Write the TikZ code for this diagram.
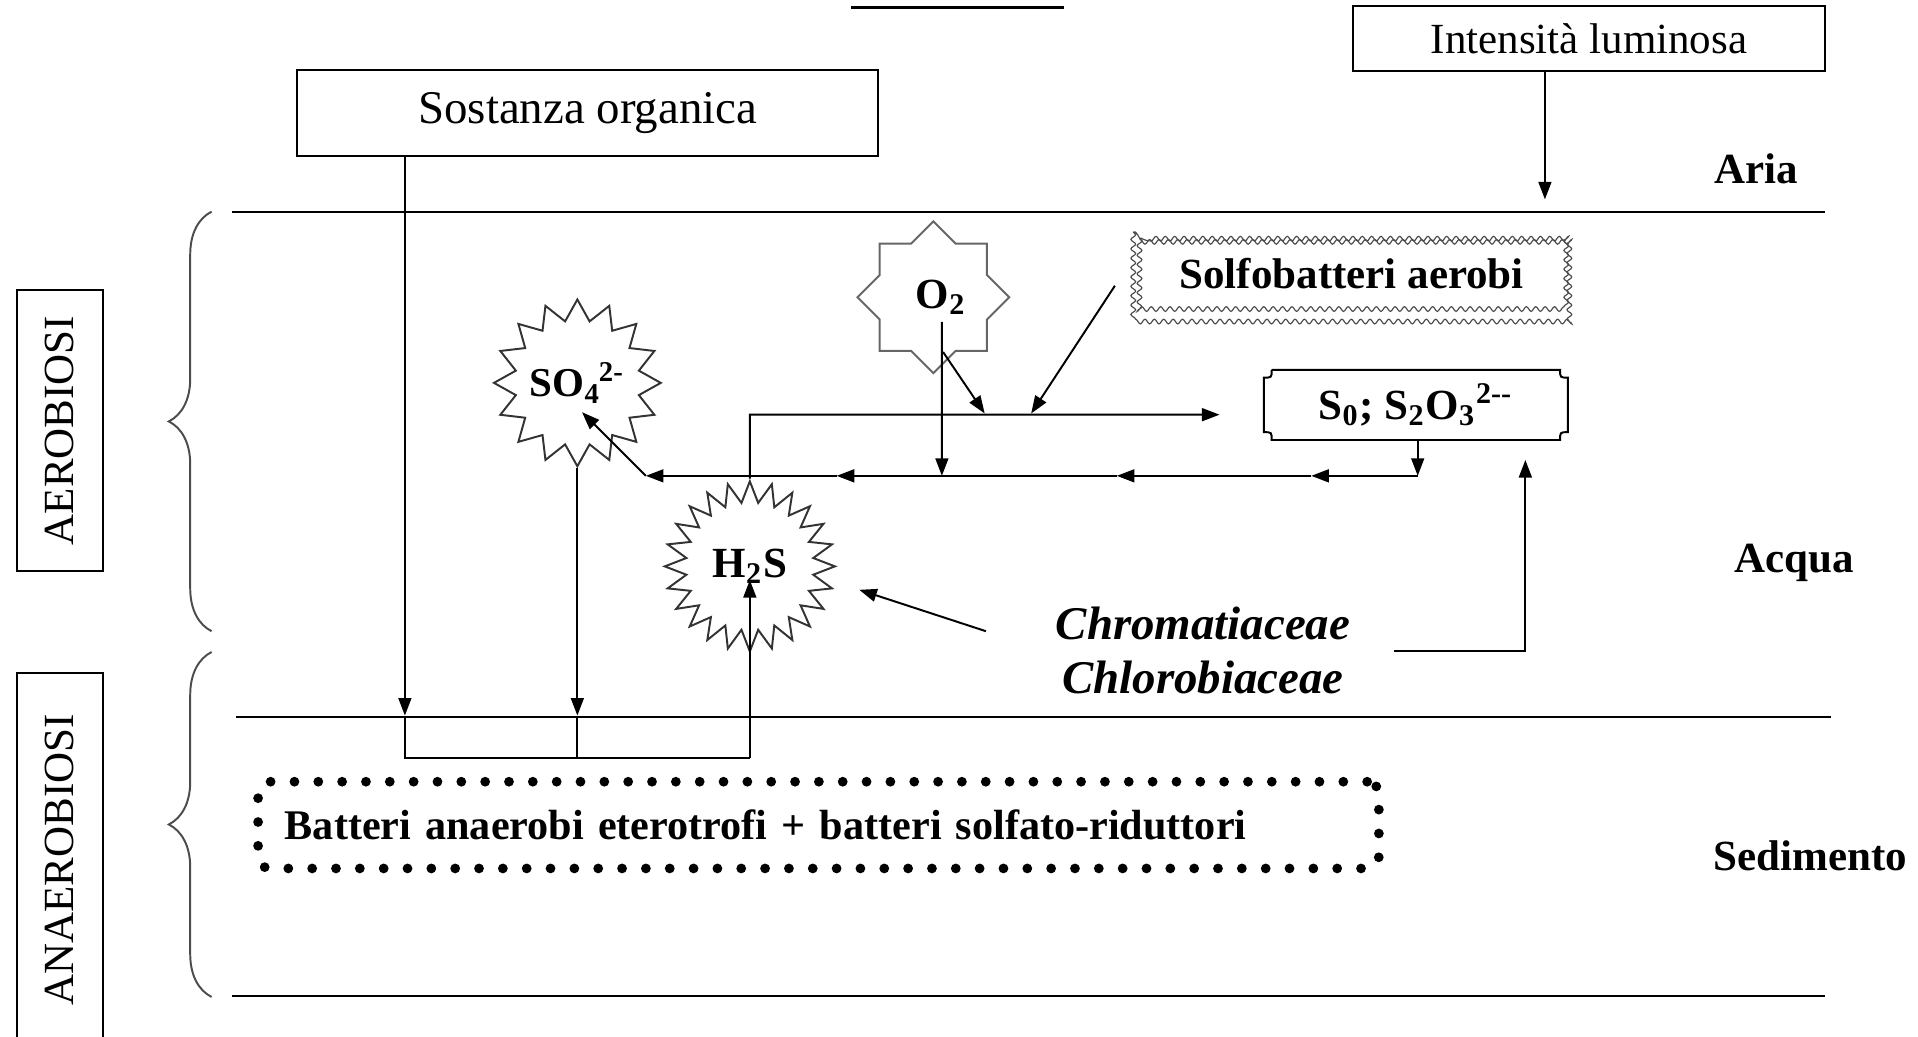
\documentclass[tikz,border=0pt]{standalone}
\usepackage{fontspec}
\setmainfont{Liberation Serif}
\usetikzlibrary{arrows.meta,shapes.geometric,decorations.pathreplacing,decorations.pathmorphing}
\tikzstyle{labelbox}=[draw, inner sep=0pt, font=\fontsize{12}{14}\selectfont]
\tikzstyle{sidebox}=[draw, rotate=90, inner sep=0pt, minimum height=0.77cm, font=\fontsize{11}{13}\selectfont]
\tikzstyle{layer}=[anchor=base, font=\bfseries\fontsize{11}{13}\selectfont]
\tikzstyle{burst}=[star, star point ratio=1.33, draw=black!80, inner sep=0pt, font=\bfseries\fontsize{11}{13}\selectfont]
\tikzstyle{species}=[anchor=base, font=\bfseries\itshape\fontsize{12}{14}\selectfont]
\tikzstyle{flow}=[-{Triangle[length=4.5pt,width=3.3pt]}]
\tikzstyle{curly}=[decorate, decoration={brace, amplitude=0.385cm}, draw=black!70]
\tikzstyle{wavy}=[decorate, decoration={snake, segment length=2.4pt, amplitude=0.6pt}, draw=black!70, line width=0.3pt]
\tikzstyle{dotbox}=[draw, line width=2.5pt, line cap=round, dash pattern=on 0pt off 6.1pt, rounded corners=3pt, text width=9.6cm, inner sep=0.24cm, minimum height=0.78cm, align=left, font=\bfseries\fontsize{10.8}{13}\selectfont]

\begin{document}
\begin{tikzpicture}[x=0.011cm, y=-0.011cm, line width=0.5pt]
\useasboundingbox (0,0) rectangle (1568,847);

% strati
\draw[line width=0.8pt] (696,6) -- (870,6);
\draw (190,173) -- (1492,173);
\draw (193,586) -- (1497,586);
\draw (190,814) -- (1492,814);

\node[layer] (aria) at (1436,150) {Aria};
\node[layer] (acqua) at (1467,468) {Acqua};
\node[layer] (sedimento) at (1480,712) {Sedimento};

\draw[curly] (173,516) -- (173,173);
\draw[curly] (173,815) -- (173,533);
\node[sidebox, minimum width=2.53cm] (aerobiosi) at (49,352) {AEROBIOSI};
\node[sidebox, minimum width=3.36cm] (anaerobiosi) at (49,703) {ANAEROBIOSI};

% riquadri
\node[labelbox, minimum width=5.225cm, minimum height=0.77cm] (organica) at (480.5,92.4) {Sostanza organica};
\node[labelbox, font=\fontsize{11}{13}\selectfont, minimum width=4.25cm, minimum height=0.583cm] (luce) at (1299,31.4) {Intensità luminosa};

\node[font=\bfseries\fontsize{11}{13}\selectfont, minimum width=3.96cm, minimum height=0.79cm] (aerobi) at (1105,224) {Solfobatteri aerobi};
\draw[wavy] ([xshift=0.7pt,yshift=-0.7pt]aerobi.north west) rectangle ([xshift=-0.7pt,yshift=0.7pt]aerobi.south east);
\draw[wavy] ([xshift=2.3pt,yshift=-2.3pt]aerobi.north west) rectangle ([xshift=-2.3pt,yshift=2.3pt]aerobi.south east);

\node[font=\bfseries\fontsize{11}{13}\selectfont, minimum width=2.717cm, minimum height=0.594cm] (zolfo) at (1157.5,331) {S\textsubscript{0}; S\textsubscript{2}O\textsubscript{3}\textsuperscript{2-{}-}};
\draw ([xshift=2pt]zolfo.north west) -- ([xshift=-2pt]zolfo.north east)
  .. controls ([xshift=-2pt,yshift=-2pt]zolfo.north east) .. ([yshift=-2pt]zolfo.north east)
  -- ([yshift=2pt]zolfo.south east)
  .. controls ([xshift=-2pt,yshift=2pt]zolfo.south east) .. ([xshift=-2pt]zolfo.south east)
  -- ([xshift=2pt]zolfo.south west)
  .. controls ([xshift=2pt,yshift=2pt]zolfo.south west) .. ([yshift=2pt]zolfo.south west)
  -- ([yshift=-2pt]zolfo.north west)
  .. controls ([xshift=2pt,yshift=-2pt]zolfo.north west) .. ([xshift=2pt]zolfo.north west);

\node[dotbox, anchor=west] (anaerobi) at (207,674.5) {Batteri anaerobi eterotrofi + batteri solfato-riduttori};

% composti
\node[burst, star points=8, star point ratio=1.307, draw=black!60, minimum size=1.364cm] (o2) at (763,243) {\makebox[0pt]{\hspace{4pt}O\textsubscript{2}}};
\node[burst, star points=16, minimum size=1.5cm, font=\bfseries\fontsize{10.5}{12}\selectfont] (so4) at (472,313) {\makebox[0pt]{SO\textsubscript{4}\kern-0.5pt\textsuperscript{2-}}};
\node[burst, star points=24, minimum size=1.53cm] (h2s) at (613,463) {H\textsubscript{2}S};

\node[species] (chrom) at (983.5,523) {Chromatiaceae};
\node[species] (chlor) at (983.5,567) {Chlorobiaceae};

% punti di snodo
\coordinate (sun) at (1263,163);
\coordinate (sed1) at (331,585);
\coordinate (sed2) at (472,585);
\coordinate (base1) at (331,620);
\coordinate (base2) at (472,620);
\coordinate (base3) at (613,620);
\coordinate (top1) at (613,339);
\coordinate (top2) at (997,339);
\coordinate (topO) at (805,338);
\coordinate (topS) at (843,338);
\coordinate (lowA) at (1159,389);
\coordinate (lowB) at (1072,389);
\coordinate (lowC) at (913,389);
\coordinate (lowD) at (770,389);
\coordinate (lowE) at (684,389);
\coordinate (lowF) at (528,389);
\coordinate (cc) at (806,516);
\coordinate (ce) at (1140,532);
\coordinate (cup) at (1247,376);

\draw[flow] (luce.south -| sun) -- (sun);
\draw[flow] (organica.south -| sed1) -- (sed1);
\draw[flow] (so4.south) -- (sed2);
\draw (sed1) -- (base1) -- (base3);
\draw (sed2) -- (base2);
\draw[flow] (base3) -- ([yshift=-3.5pt]h2s.center);
\draw[flow] (h2s.north) -- (top1) -- (top2);
\draw[flow] ([xshift=2.5pt,yshift=-14pt]o2.center) -- (topO);
\draw[flow] ([xshift=-4pt,yshift=-3pt]aerobi.west) -- (topS);
\draw[flow] ([xshift=2.2pt,yshift=-6.3pt]o2.center) -- (lowD);
\draw[flow] (zolfo.south -| lowA) -- (lowA);
\draw[flow] (lowA) -- (lowB);
\draw[flow] (lowB) -- (lowC);
\draw (lowC) -- (lowD);
\draw[flow] (lowD) -- (lowE);
\draw[flow] (lowE) -- (lowF);
\draw[flow] (lowF) -- ([xshift=1.2pt,yshift=-7.5pt]so4.center);
\draw[flow] (cc) -- ([xshift=28pt,yshift=-6pt]h2s.center);
\draw[flow] (ce) -| (cup);
\end{tikzpicture}
\end{document}
